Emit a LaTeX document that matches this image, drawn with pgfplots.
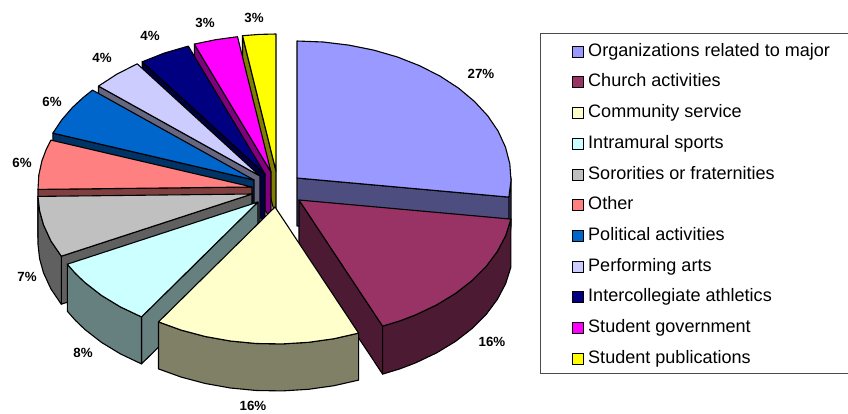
\documentclass[border=0pt]{standalone}
\usepackage{fontspec}
\setmainfont{Liberation Sans}
\usepackage{pgfplots}
\pgfplotsset{compat=1.18}
\definecolor{cA}{HTML}{9999FF}\definecolor{sA}{HTML}{4D4D80}
\definecolor{cB}{HTML}{993366}\definecolor{sB}{HTML}{4D1A33}
\definecolor{cC}{HTML}{FFFFCC}\definecolor{sC}{HTML}{808066}
\definecolor{cD}{HTML}{CCFFFF}\definecolor{sD}{HTML}{668080}
\definecolor{cE}{HTML}{C0C0C0}\definecolor{sE}{HTML}{606060}
\definecolor{cF}{HTML}{FF8080}\definecolor{sF}{HTML}{804040}
\definecolor{cG}{HTML}{0066CC}\definecolor{sG}{HTML}{003366}
\definecolor{cH}{HTML}{CCCCFF}\definecolor{sH}{HTML}{666680}
\definecolor{cI}{HTML}{000080}\definecolor{sI}{HTML}{000040}
\definecolor{cJ}{HTML}{FF00FF}\definecolor{sJ}{HTML}{800080}
\definecolor{cK}{HTML}{FFFF00}\definecolor{sK}{HTML}{808000}
\pgfplotsset{
 wedge/.style={fill=#1,draw=black,line width=1.1pt,line join=round,forget plot,mark=none},
 leg/.style={legend image code/.code={\draw[fill=#1,draw=black,line width=1pt](0pt,-5.5pt)rectangle(11pt,5.5pt);}},
}
\newcommand{\pct}[3]{\node[font=\fontsize{13.3}{13.3}\selectfont\bfseries,text=black] at (axis cs:#1,#2) {#3\%};}
\begin{document}
\begin{tikzpicture}
\useasboundingbox (0,0) rectangle (848pt,413pt);
\begin{axis}[
 hide axis,scale only axis,width=848pt,height=413pt,
 xmin=0,xmax=848,ymin=0,ymax=413,y dir=reverse,clip=false,
 legend cell align=left,
 legend style={at={(axis cs:571.5,43)},anchor=north west,draw=none,fill=none,
  font=\fontsize{18.05}{18}\selectfont,row sep=13.7pt,inner sep=0pt,
  nodes={text height=13pt,text depth=4pt,inner sep=0pt},
  /tikz/every odd column/.append style={column sep=4.5pt}},
]
% legend frame
\addplot[draw=black!70!white,line width=0.8pt,fill=white,forget plot] coordinates {(540,33.5)(850,33.5)(850,373.5)(540,373.5)} --cycle;
% Student publications
\addplot[wedge=sK] coordinates {(276,171)(242.5,35.7)(242.5,83.7)(276,219)} --cycle;
\addplot[wedge=cK] coordinates {(276,171)(242.5,35.7)(259.2,34.4)(276,34)} --cycle;
% Student government
\addplot[wedge=sJ] coordinates {(271,172)(194.3,44.1)(194.3,92.1)(271,220)} --cycle;
\addplot[wedge=cJ] coordinates {(271,172)(194.3,44.1)(215.6,39.7)(237.5,36.7)} --cycle;
% Intercollegiate athletics
\addplot[wedge=sI] coordinates {(265,174)(142.2,61.8)(142.2,109.8)(265,222)} --cycle;
\addplot[wedge=cI] coordinates {(265,174)(142.2,61.8)(164.5,53)(188.3,46.1)} --cycle;
% Performing arts
\addplot[wedge=sH] coordinates {(260,176)(98.5,86.1)(98.5,134.1)(260,224)} --cycle;
\addplot[wedge=cH] coordinates {(260,176)(98.5,86.1)(116.8,74.2)(137.2,63.8)} --cycle;
% Political activities
\addplot[wedge=sG] coordinates {(254,180)(52.9,133.1)(52.9,181.1)(254,228)} --cycle;
\addplot[wedge=cG] coordinates {(254,180)(52.9,133.1)(61.7,119.9)(72.5,107.4)(83.1,97.6)(92.5,90.1)} --cycle;
% Other
\addplot[wedge=sF] coordinates {(252,187)(38,189.4)(38,237.4)(252,235)} --cycle;
\addplot[wedge=cF] coordinates {(252,187)(38,189.4)(38.8,175.1)(41.9,160.9)(46.3,149.2)(50.9,140.1)} --cycle;
% Sororities or fraternities
\addplot[wedge=sE] coordinates {(252,194)(61.3,256.2)(61.3,304.2)(252,242)} --cycle;
\addplot[wedge=sE] coordinates {(61.3,256.2)(50.9,240.9)(43.5,224.8)(39.6,210.7)(38,196.4)(38,244.4)(39.6,258.7)(43.5,272.8)(50.9,288.9)(61.3,304.2)} --cycle;
\addplot[wedge=cE] coordinates {(252,194)(61.3,256.2)(50.9,240.9)(43.5,224.8)(39.6,210.7)(38,196.4)} --cycle;
% Intramural sports
\addplot[wedge=sD] coordinates {(258,202)(141.5,316.9)(141.5,363.9)(258,249)} --cycle;
\addplot[wedge=sD] coordinates {(141.5,316.9)(120.4,306.9)(101.5,295.4)(84.9,282.5)(75.5,273.5)(67.3,264.2)(67.3,311.2)(75.5,320.5)(84.9,329.5)(101.5,342.4)(120.4,353.9)(141.5,363.9)} --cycle;
\addplot[wedge=cD] coordinates {(258,202)(141.5,316.9)(120.4,306.9)(101.5,295.4)(84.9,282.5)(75.5,273.5)(67.3,264.2)} --cycle;
% Organizations related to major
\addplot[wedge=sA] coordinates {(511,178)(511,226)(508.9,245.1)(508.9,197.1)} --cycle;
\addplot[wedge=sA] coordinates {(297,178)(508.9,197.1)(508.9,245.1)(297,226)} --cycle;
\addplot[wedge=cA] coordinates {(297,178)(297,41)(323.1,42)(348.8,45.1)(373.7,50.1)(397.5,57)(419.8,65.8)(440.2,76.2)(458.5,88.1)(474.4,101.4)(487.7,115.8)(498.1,131.1)(505.5,147.2)(509.8,163.7)(511,180.4)(508.9,197.1)} --cycle;
% Church activities
\addplot[wedge=sB] coordinates {(299,200)(382.6,326.1)(382.6,374.1)(299,248)} --cycle;
\addplot[wedge=sB] coordinates {(510.9,219.1)(505.7,235.5)(497.4,251.3)(486.2,266.4)(472.1,280.5)(455.5,293.4)(436.6,304.9)(415.5,314.9)(399.5,321)(382.6,326.1)(382.6,374.1)(399.5,369)(415.5,362.9)(436.6,352.9)(455.5,341.4)(472.1,328.5)(486.2,314.4)(497.4,299.3)(505.7,283.5)(510.9,267.1)} --cycle;
\addplot[wedge=cB] coordinates {(299,200)(510.9,219.1)(505.7,235.5)(497.4,251.3)(486.2,266.4)(472.1,280.5)(455.5,293.4)(436.6,304.9)(415.5,314.9)(399.5,321)(382.6,326.1)} --cycle;
% Community service
\addplot[wedge=sC] coordinates {(358.6,333.1)(334,338.7)(308.5,342.3)(282.5,343.9)(256.3,343.5)(230.5,341)(205.3,336.5)(181.2,330.1)(158.5,321.9)(158.5,368.9)(181.2,377.1)(205.3,383.5)(230.5,388)(256.3,390.5)(282.5,390.9)(308.5,389.3)(334,385.7)(358.6,380.1)} --cycle;
\addplot[wedge=cC] coordinates {(275,207)(358.6,333.1)(334,338.7)(308.5,342.3)(282.5,343.9)(256.3,343.5)(230.5,341)(205.3,336.5)(181.2,330.1)(158.5,321.9)} --cycle;
% labels
\pct{481}{74}{27}\pct{492}{342}{16}\pct{253}{406}{16}\pct{83}{353}{8}\pct{27}{277}{7}
\pct{22}{163}{6}\pct{52}{102}{6}\pct{102}{58}{4}\pct{150}{36}{4}\pct{205}{23}{3}\pct{254}{18}{3}
% legend
\addlegendimage{leg=cA}\addlegendentry{Organizations related to major}
\addlegendimage{leg=cB}\addlegendentry{Church activities}
\addlegendimage{leg=cC}\addlegendentry{Community service}
\addlegendimage{leg=cD}\addlegendentry{Intramural sports}
\addlegendimage{leg=cE}\addlegendentry{Sororities or fraternities}
\addlegendimage{leg=cF}\addlegendentry{Other}
\addlegendimage{leg=cG}\addlegendentry{Political activities}
\addlegendimage{leg=cH}\addlegendentry{Performing arts}
\addlegendimage{leg=cI}\addlegendentry{Intercollegiate athletics}
\addlegendimage{leg=cJ}\addlegendentry{Student government}
\addlegendimage{leg=cK}\addlegendentry{Student publications}
\end{axis}
\end{tikzpicture}
\end{document}
